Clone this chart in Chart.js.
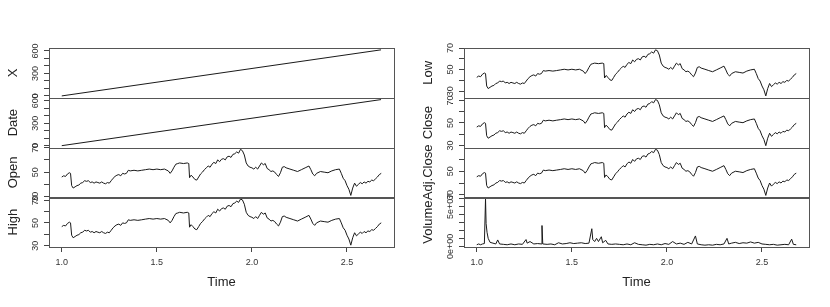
<!DOCTYPE html>
<html>
<head>
<meta charset="utf-8">
<script src="https://cdn.jsdelivr.net/npm/chart.js@4.4.0/dist/chart.umd.min.js"></script>
<style>
    body { margin: 0; background: #fff; }
    .wrap { position: relative; width: 830px; height: 307px; }
    canvas { position: absolute; top: 0; }
</style>
</head>
<body>
<div class="wrap">
    <canvas id="left-chart" width="415" height="307" style="left:0"></canvas>
    <canvas id="right-chart" width="415" height="307" style="left:415px"></canvas>
</div>
<script>
// 时间轴（年份序号）
const times = [
    1.000, 1.010, 1.020, 1.030, 1.040, 1.046, 1.052, 1.060, 1.070, 1.080,
    1.090, 1.100, 1.110, 1.120, 1.130, 1.140, 1.150, 1.160, 1.170, 1.180,
    1.190, 1.200, 1.210, 1.220, 1.230, 1.240, 1.250, 1.260, 1.270, 1.280,
    1.290, 1.300, 1.310, 1.320, 1.330, 1.340, 1.350, 1.360, 1.380, 1.400,
    1.420, 1.440, 1.460, 1.480, 1.500, 1.520, 1.540, 1.560, 1.570, 1.580,
    1.590, 1.600, 1.610, 1.620, 1.640, 1.660, 1.668, 1.672, 1.680, 1.690,
    1.700, 1.710, 1.720, 1.730, 1.740, 1.750, 1.760, 1.770, 1.780, 1.790,
    1.800, 1.810, 1.820, 1.830, 1.840, 1.850, 1.860, 1.870, 1.880, 1.890,
    1.900, 1.910, 1.920, 1.930, 1.940, 1.950, 1.960, 1.970, 1.980, 1.990,
    2.000, 2.010, 2.020, 2.030, 2.040, 2.050, 2.060, 2.070, 2.080, 2.090,
    2.100, 2.110, 2.120, 2.130, 2.140, 2.150, 2.160, 2.170, 2.180, 2.200,
    2.220, 2.240, 2.260, 2.280, 2.300, 2.310, 2.320, 2.330, 2.340, 2.360,
    2.380, 2.400, 2.420, 2.440, 2.460, 2.470, 2.480, 2.490, 2.500, 2.510,
    2.520, 2.530, 2.540, 2.550, 2.560, 2.570, 2.580, 2.590, 2.600, 2.610,
    2.620, 2.630, 2.640, 2.650, 2.660, 2.670, 2.680
];

const openValues = [
    46.0, 47.0, 46.5, 48.5, 49.5, 49.0, 39.0, 37.0, 38.0, 39.0,
    39.5, 41.0, 41.5, 43.0, 42.5, 43.0, 41.5, 42.0, 41.0, 42.0,
    41.5, 41.0, 42.0, 41.0, 40.5, 41.5, 41.0, 43.0, 45.0, 46.5,
    47.5, 48.0, 47.0, 49.0, 48.5, 49.0, 51.5, 51.0, 51.5, 51.0,
    51.5, 52.0, 52.5, 52.0, 52.5, 52.0, 52.5, 51.0, 49.0, 51.0,
    54.0, 56.5, 57.0, 57.5, 57.0, 57.5, 57.0, 45.5, 47.5, 46.0,
    44.0, 43.5, 46.0, 48.5, 50.0, 52.0, 53.5, 55.0, 54.0, 56.5,
    58.0, 57.0, 60.0, 58.5, 60.5, 61.0, 60.0, 62.5, 63.0, 62.0,
    64.5, 65.0, 66.5, 65.5, 68.6, 67.5, 64.0, 57.5, 55.0, 54.0,
    53.5, 52.5, 54.0, 52.5, 55.0, 57.5, 56.0, 57.0, 53.0, 52.0,
    50.5, 51.0, 50.0, 48.0, 46.5, 49.5, 54.0, 54.5, 53.5, 52.5,
    51.5, 50.5, 52.0, 53.5, 55.0, 52.0, 48.5, 47.0, 49.0, 50.5,
    50.0, 49.5, 51.0, 52.0, 52.5, 49.0, 45.0, 43.0, 39.0, 36.0,
    31.0, 37.0, 41.0, 38.5, 40.0, 41.5, 40.5, 42.0, 41.0, 42.5,
    42.0, 43.5, 43.0, 44.5, 46.0, 48.0, 49.0
];

const highValues = [
    46.8, 47.9, 47.4, 49.6, 50.7, 50.1, 39.2, 37.0, 38.1, 39.2,
    39.8, 41.4, 41.9, 43.6, 43.0, 43.6, 41.9, 42.5, 41.4, 42.5,
    41.9, 41.4, 42.5, 41.4, 40.8, 41.9, 41.4, 43.6, 45.8, 47.4,
    48.5, 49.0, 47.9, 50.1, 49.6, 50.1, 52.8, 52.3, 52.8, 52.3,
    52.8, 53.4, 53.9, 53.4, 53.9, 53.4, 53.9, 52.3, 50.1, 52.3,
    55.6, 58.3, 58.8, 59.4, 58.8, 59.4, 58.8, 46.3, 48.5, 46.8,
    44.7, 44.1, 46.8, 49.6, 51.2, 53.4, 55.0, 56.7, 55.6, 58.3,
    59.9, 58.8, 62.1, 60.5, 62.6, 63.2, 62.1, 64.8, 65.4, 64.3,
    67.0, 67.6, 69.2, 68.1, 71.0, 70.3, 66.5, 59.4, 56.7, 55.6,
    55.0, 53.9, 55.6, 53.9, 56.7, 59.4, 57.7, 58.8, 54.5, 53.4,
    51.7, 52.3, 51.2, 49.0, 47.4, 50.7, 55.6, 56.1, 55.0, 53.9,
    52.8, 51.7, 53.4, 55.0, 56.7, 53.4, 49.6, 47.9, 50.1, 51.7,
    51.2, 50.7, 52.3, 53.4, 53.9, 50.1, 45.8, 43.6, 39.2, 35.9,
    30.5, 37.0, 41.4, 38.7, 40.3, 41.9, 40.8, 42.5, 41.4, 43.0,
    42.5, 44.1, 43.6, 45.2, 46.8, 49.0, 50.1
];

const lowValues = [
    42.8, 44.0, 43.4, 45.7, 46.8, 46.3, 34.8, 32.4, 33.6, 34.8,
    35.3, 37.1, 37.6, 39.4, 38.8, 39.4, 37.6, 38.2, 37.1, 38.2,
    37.6, 37.1, 38.2, 37.1, 36.5, 37.6, 37.1, 39.4, 41.7, 43.4,
    44.5, 45.1, 44.0, 46.3, 45.7, 46.3, 49.1, 48.6, 49.1, 48.6,
    49.1, 49.7, 50.3, 49.7, 50.3, 49.7, 50.3, 48.6, 46.3, 48.6,
    52.0, 54.9, 55.5, 56.0, 55.5, 56.0, 55.5, 42.2, 44.5, 42.8,
    40.5, 39.9, 42.8, 45.7, 47.4, 49.7, 51.4, 53.2, 52.0, 54.9,
    56.6, 55.5, 58.9, 57.2, 59.5, 60.1, 58.9, 61.8, 62.4, 61.2,
    64.1, 64.7, 66.4, 65.2, 68.3, 67.5, 63.5, 56.0, 53.2, 52.0,
    51.4, 50.3, 52.0, 50.3, 53.2, 56.0, 54.3, 55.5, 50.9, 49.7,
    48.0, 48.6, 47.4, 45.1, 43.4, 46.8, 52.0, 52.6, 51.4, 50.3,
    49.1, 48.0, 49.7, 51.4, 53.2, 49.7, 45.7, 44.0, 46.3, 48.0,
    47.4, 46.8, 48.6, 49.7, 50.3, 46.3, 41.7, 39.4, 34.8, 31.3,
    25.6, 32.4, 37.1, 34.2, 35.9, 37.6, 36.5, 38.2, 37.1, 38.8,
    38.2, 39.9, 39.4, 41.1, 42.8, 45.1, 46.3
];

const closeValues = [
    46.3, 47.4, 46.9, 49.1, 50.2, 49.6, 38.6, 36.4, 37.5, 38.6,
    39.2, 40.8, 41.4, 43.0, 42.5, 43.0, 41.4, 41.9, 40.8, 41.9,
    41.4, 40.8, 41.9, 40.8, 40.3, 41.4, 40.8, 43.0, 45.2, 46.9,
    48.0, 48.5, 47.4, 49.6, 49.1, 49.6, 52.4, 51.8, 52.4, 51.8,
    52.4, 52.9, 53.5, 52.9, 53.5, 52.9, 53.5, 51.8, 49.6, 51.8,
    55.1, 57.9, 58.4, 59.0, 58.4, 59.0, 58.4, 45.8, 48.0, 46.3,
    44.1, 43.6, 46.3, 49.1, 50.7, 52.9, 54.6, 56.2, 55.1, 57.9,
    59.5, 58.4, 61.7, 60.1, 62.3, 62.8, 61.7, 64.5, 65.0, 63.9,
    66.7, 67.2, 68.9, 67.8, 70.7, 70.0, 66.1, 59.0, 56.2, 55.1,
    54.6, 53.5, 55.1, 53.5, 56.2, 59.0, 57.3, 58.4, 54.0, 52.9,
    51.3, 51.8, 50.7, 48.5, 46.9, 50.2, 55.1, 55.7, 54.6, 53.5,
    52.4, 51.3, 52.9, 54.6, 56.2, 52.9, 49.1, 47.4, 49.6, 51.3,
    50.7, 50.2, 51.8, 52.9, 53.5, 49.6, 45.2, 43.0, 38.6, 35.3,
    29.8, 36.4, 40.8, 38.1, 39.7, 41.4, 40.3, 41.9, 40.8, 42.5,
    41.9, 43.6, 43.0, 44.7, 46.3, 48.5, 49.6
];

const adjCloseValues = [
    45.2, 46.2, 45.7, 47.8, 48.8, 48.3, 37.9, 35.8, 36.9, 37.9,
    38.4, 40.0, 40.5, 42.1, 41.6, 42.1, 40.5, 41.0, 40.0, 41.0,
    40.5, 40.0, 41.0, 40.0, 39.5, 40.5, 40.0, 42.1, 44.2, 45.7,
    46.8, 47.3, 46.2, 48.3, 47.8, 48.3, 50.9, 50.4, 50.9, 50.4,
    50.9, 51.4, 52.0, 51.4, 52.0, 51.4, 52.0, 50.4, 48.3, 50.4,
    53.5, 56.1, 56.6, 57.2, 56.6, 57.2, 56.6, 44.7, 46.8, 45.2,
    43.1, 42.6, 45.2, 47.8, 49.4, 51.4, 53.0, 54.6, 53.5, 56.1,
    57.7, 56.6, 59.8, 58.2, 60.3, 60.8, 59.8, 62.4, 62.9, 61.8,
    64.4, 65.0, 66.5, 65.5, 68.3, 67.6, 63.9, 57.2, 54.6, 53.5,
    53.0, 52.0, 53.5, 52.0, 54.6, 57.2, 55.6, 56.6, 52.5, 51.4,
    49.9, 50.4, 49.4, 47.3, 45.7, 48.8, 53.5, 54.0, 53.0, 52.0,
    50.9, 49.9, 51.4, 53.0, 54.6, 51.4, 47.8, 46.2, 48.3, 49.9,
    49.4, 48.8, 50.4, 51.4, 52.0, 48.3, 44.2, 42.1, 37.9, 34.8,
    29.6, 35.8, 40.0, 37.4, 39.0, 40.5, 39.5, 41.0, 40.0, 41.6,
    41.0, 42.6, 42.1, 43.6, 45.2, 47.3, 48.3
];

// 成交量单独的时间点（尖峰需要更密的采样）
const volumeTimes = [
    1.000, 1.010, 1.020, 1.030, 1.040, 1.046, 1.049, 1.054, 1.060, 1.070,
    1.085, 1.100, 1.110, 1.120, 1.140, 1.160, 1.180, 1.200, 1.220, 1.240,
    1.259, 1.265, 1.280, 1.300, 1.320, 1.340, 1.343, 1.347, 1.370, 1.390,
    1.410, 1.430, 1.450, 1.470, 1.490, 1.510, 1.530, 1.550, 1.570, 1.590,
    1.605, 1.610, 1.620, 1.630, 1.640, 1.655, 1.662, 1.678, 1.690, 1.710,
    1.730, 1.750, 1.770, 1.790, 1.810, 1.830, 1.850, 1.870, 1.890, 1.910,
    1.930, 1.950, 1.970, 1.990, 2.010, 2.030, 2.050, 2.070, 2.090, 2.110,
    2.130, 2.150, 2.160, 2.180, 2.200, 2.220, 2.240, 2.260, 2.280, 2.300,
    2.316, 2.325, 2.340, 2.360, 2.380, 2.400, 2.420, 2.440, 2.460, 2.480,
    2.500, 2.520, 2.540, 2.560, 2.580, 2.600, 2.620, 2.640, 2.656, 2.665,
    2.680
];

const volumeValues = [
    0.2e7, 0.3e7, 0.2e7, 0.3e7, 0.35e7, 5.9e7, 2.85e7, 1.75e7, 1.0e7, 0.5e7,
    0.4e7, 0.3e7, 0.8e7, 0.3e7, 0.25e7, 0.2e7, 0.3e7, 0.2e7, 0.3e7, 0.25e7,
    0.85e7, 0.4e7, 0.6e7, 0.3e7, 0.35e7, 0.3e7, 2.6e7, 0.3e7, 0.25e7, 0.3e7,
    0.2e7, 0.45e7, 0.3e7, 0.35e7, 0.45e7, 0.35e7, 0.4e7, 0.45e7, 0.35e7, 0.4e7,
    2.2e7, 0.85e7, 0.6e7, 1.0e7, 0.6e7, 1.2e7, 0.45e7, 0.75e7, 0.3e7, 0.25e7,
    0.3e7, 0.25e7, 0.2e7, 0.3e7, 0.2e7, 0.45e7, 0.25e7, 0.2e7, 0.15e7, 0.25e7,
    0.2e7, 0.3e7, 0.2e7, 0.35e7, 0.25e7, 0.6e7, 0.3e7, 0.4e7, 0.25e7, 0.5e7,
    0.3e7, 1.3e7, 0.3e7, 0.2e7, 0.15e7, 0.2e7, 0.15e7, 0.25e7, 0.2e7, 0.3e7,
    1.0e7, 0.3e7, 0.4e7, 0.5e7, 0.35e7, 0.45e7, 0.4e7, 0.55e7, 0.4e7, 0.5e7,
    0.3e7, 0.25e7, 0.2e7, 0.25e7, 0.15e7, 0.2e7, 0.25e7, 0.2e7, 0.9e7, 0.25e7,
    0.2e7
];

// 行号 X 与 Date 编码（直线，只需首尾两点）
const indexTimes = [1.000, 2.679];
const xValues = [1, 614];
const dateValues = [1, 614];

// 刻度
const timeTicks = [1.0, 1.5, 2.0, 2.5];
const countTickLabels = [0, 300, 600];
const priceTickLabels = [30, 50, 70];
const volumeTickLabels = [0, 5e7];

Chart.defaults.font.family = '"Liberation Sans", Arial, sans-serif';

// 把两组数组拼成点
function toPoints(ts, vs) {
    return ts.map((t, i) => ({ x: t, y: vs[i] }));
}

// 和 R 一样上下各留 4%
function paddedRange(vs) {
    const lo = Math.min(...vs), hi = Math.max(...vs);
    const pad = (hi - lo) * 0.04;
    return { min: lo - pad, max: hi + pad };
}

function sciLabel(v) {
    if (v === 0) return '0e+00';
    const e = Math.floor(Math.log10(Math.abs(v)));
    const m = Math.round(v / Math.pow(10, e));
    return m + 'e+' + String(e).padStart(2, '0');
}

// 每个画布对应的面板信息（不放进 options，免得被 Chart.js 当成可脚本化选项）
const panelInfo = {};

// 画每个面板的边框和竖排刻度文字
const panelFrame = {
    id: 'panelFrame',
    afterDraw(chart) {
        const ctx = chart.ctx;
        const area = chart.chartArea;
        const panels = panelInfo[chart.canvas.id] || [];
        ctx.save();
        ctx.strokeStyle = '#555';
        ctx.lineWidth = 1;
        panels.forEach(p => {
            const s = chart.scales[p.id];
            ctx.strokeRect(Math.round(area.left) + 0.5, Math.round(s.top) + 0.5,
                Math.round(area.right - area.left), Math.round(s.bottom - s.top));
        });
        ctx.fillStyle = '#333';
        ctx.font = '9px "Liberation Sans", Arial, sans-serif';
        ctx.textAlign = 'center';
        ctx.textBaseline = 'middle';
        panels.forEach(p => {
            const s = chart.scales[p.id];
            p.labels.forEach(v => {
                if (v < s.min || v > s.max) return;
                const y = s.getPixelForValue(v);
                ctx.save();
                ctx.translate(35.5, y);
                ctx.rotate(-Math.PI / 2);
                ctx.fillText(p.format(v), 0, 0);
                ctx.restore();
            });
        });
        ctx.restore();
    }
};

function createPanelChart(canvasId, panels) {
    const canvas = document.getElementById(canvasId);
    const tRange = paddedRange(times);
    panelInfo[canvasId] = panels;

    const scales = {
        x: {
            type: 'linear',
            position: 'bottom',
            min: tRange.min,
            max: tRange.max,
            afterBuildTicks: scale => {
                scale.ticks = timeTicks.map(v => ({ value: v }));
            },
            afterFit: scale => { scale.height = 60; },
            ticks: {
                color: '#333',
                font: { size: 9 },
                padding: 5,
                maxRotation: 0,
                callback: v => v.toFixed(1)
            },
            grid: { drawOnChartArea: false, drawTicks: true, tickLength: 5, color: '#444' },
            border: { display: false },
            title: {
                display: true,
                text: 'Time',
                color: '#222',
                font: { size: 13 },
                padding: { top: 0, bottom: 17 }
            }
        }
    };

    const datasets = [];
    // 先定义的在下面，所以倒序加入
    panels.slice().reverse().forEach(p => {
        const range = paddedRange(p.values);
        const step = p.step;
        scales[p.id] = {
            type: 'linear',
            position: 'left',
            stack: 'panels',
            stackWeight: 1,
            min: range.min,
            max: range.max,
            afterBuildTicks: scale => {
                const ticks = [];
                for (let v = Math.ceil(scale.min / step) * step; v <= scale.max; v += step) {
                    ticks.push({ value: v });
                }
                scale.ticks = ticks;
            },
            afterFit: scale => { scale.width = 49; },
            ticks: { display: false },
            grid: { drawOnChartArea: false, drawTicks: true, tickLength: 5, color: '#444' },
            border: { display: false },
            title: {
                display: true,
                text: p.title,
                color: '#222',
                font: { size: 13 },
                padding: { top: 6, bottom: 0 }
            }
        };
        datasets.push({
            label: p.title,
            data: toPoints(p.times, p.values),
            yAxisID: p.id,
            xAxisID: 'x',
            borderColor: '#1a1a1a',
            borderWidth: 1,
            pointRadius: 0,
            tension: 0,
            fill: false
        });
    });

    return new Chart(canvas, {
        type: 'line',
        data: { datasets: datasets },
        options: {
            responsive: false,
            animation: false,
            layout: { padding: { top: 48, right: 21, bottom: 0, left: 0 } },
            scales: scales,
            plugins: {
                legend: { display: false },
                tooltip: { enabled: false }
            }
        },
        plugins: [panelFrame]
    });
}

const plain = v => String(v);

// 左图：X, Date, Open, High（从上到下）
window.leftChart = createPanelChart('left-chart', [
    { id: 'yX', title: 'X', times: indexTimes, values: xValues, step: 100, labels: countTickLabels, format: plain },
    { id: 'yDate', title: 'Date', times: indexTimes, values: dateValues, step: 100, labels: countTickLabels, format: plain },
    { id: 'yOpen', title: 'Open', times: times, values: openValues, step: 10, labels: priceTickLabels, format: plain },
    { id: 'yHigh', title: 'High', times: times, values: highValues, step: 10, labels: priceTickLabels, format: plain }
]);

// 右图：Low, Close, Adj.Close, Volume
window.rightChart = createPanelChart('right-chart', [
    { id: 'yLow', title: 'Low', times: times, values: lowValues, step: 10, labels: priceTickLabels, format: plain },
    { id: 'yClose', title: 'Close', times: times, values: closeValues, step: 10, labels: priceTickLabels, format: plain },
    { id: 'yAdj', title: 'Adj.Close', times: times, values: adjCloseValues, step: 10, labels: priceTickLabels, format: plain },
    { id: 'yVolume', title: 'Volume', times: volumeTimes, values: volumeValues, step: 1e7, labels: volumeTickLabels, format: sciLabel }
]);
</script>
</body>
</html>
